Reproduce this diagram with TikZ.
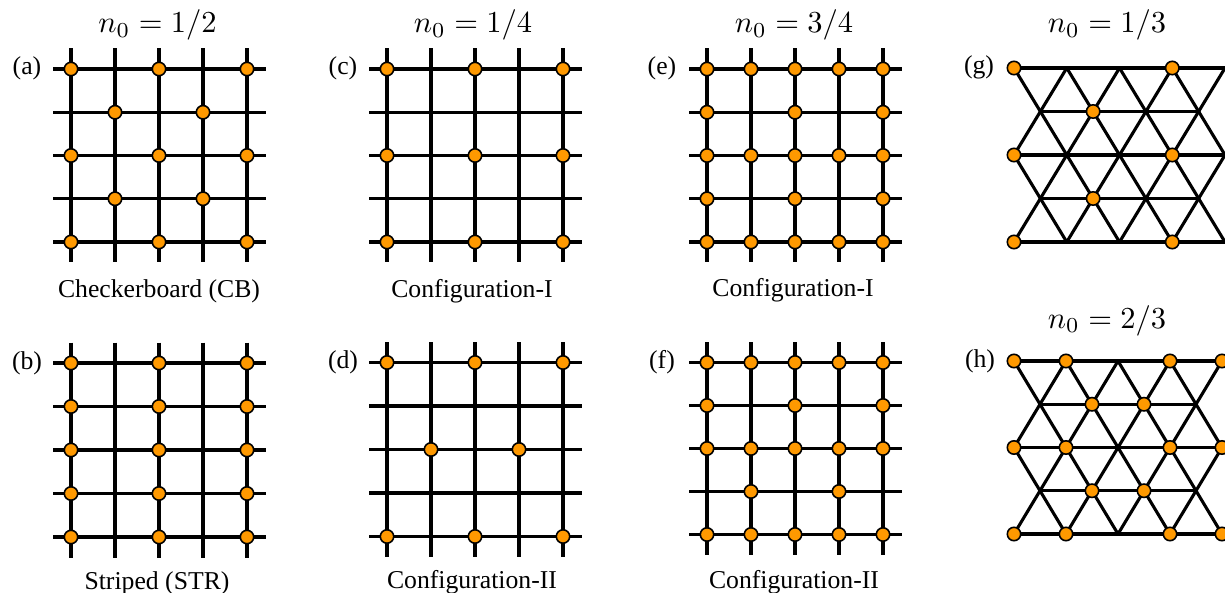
\documentclass[tikz,border=0pt]{standalone}
\usepackage[no-math]{fontspec}
\setmainfont{Liberation Serif}
\definecolor{siteorange}{RGB}{255,153,0}
\tikzset{
  lat/.style={line width=3.2pt, line cap=butt},
  tri/.style={line width=3.1pt, line cap=round},
  site/.style={circle, draw=black, fill=siteorange, line width=1.6pt, minimum size=13.4pt, inner sep=0pt},
  lbl/.style={font=\fontsize{25.7}{30}\selectfont, anchor=base, inner sep=0pt},
  ttl/.style={font=\fontsize{10}{12}\selectfont, scale=3.05, anchor=base, inner sep=0pt}
}
\newcommand{\sqlattice}[1]{%
  \foreach \i in {0,...,4} \draw[lat] (\i*44,-20.5) -- (\i*44,4*#1+20.5);
  \foreach \j in {0,...,4} \draw[lat] (-18,\j*#1) -- (195,\j*#1);
}
\newcommand{\trilattice}[2]{%
  \foreach \r in {0,2,4} \draw[tri] (0,\r*#2) -- (4*#1+15,\r*#2);
  \foreach \r in {1,3} \draw[tri] (0.5*#1,\r*#2) -- (3.5*#1,\r*#2);
  \foreach \r in {1,3} \foreach \j in {0,...,3} {
    \draw[tri] (\j*#1,\r*#2-#2) -- (\j*#1+0.5*#1,\r*#2) -- (\j*#1,\r*#2+#2);
    \draw[tri] (\j*#1+#1,\r*#2-#2) -- (\j*#1+0.5*#1,\r*#2) -- (\j*#1+#1,\r*#2+#2);
  }
}
\begin{document}
\begin{tikzpicture}[x=1pt,y=-1pt]
\useasboundingbox (0,0) rectangle (1225,593);
\clip (0,0) rectangle (1225,593);
\fill[white] (0,0) rectangle (1225,593);

% titles
\node[ttl] (t1) at (157.5,33) {$n_0 = 1/2$};
\node[ttl] (t2) at (473,33) {$n_0 = 1/4$};
\node[ttl] (t3) at (794,33) {$n_0 = 3/4$};
\node[ttl] (t4) at (1107,33) {$n_0 = 1/3$};
\node[ttl] (t5) at (1107,328) {$n_0 = 2/3$};

% panel labels
\node[lbl] (la) at (27,75) {(a)};
\node[lbl] (lb) at (27,369) {(b)};
\node[lbl] (lc) at (343,75) {(c)};
\node[lbl] (ld) at (343,368) {(d)};
\node[lbl] (le) at (662,75) {(e)};
\node[lbl] (lf) at (662,368) {(f)};
\node[lbl] (lg) at (979,74) {(g)};
\node[lbl] (lh) at (980,367) {(h)};

% captions
\node[lbl] (ca) at (159,298) {Checkerboard (CB)};
\node[lbl] (cc) at (472,298) {Configuration-I};
\node[lbl] (ce) at (793,297) {Configuration-I};
\node[lbl] (cb) at (157,589) {Striped (STR)};
\node[lbl] (cd) at (472,588) {Configuration-II};
\node[lbl] (cf) at (794,588) {Configuration-II};

% (a) checkerboard
\begin{scope}[shift={(71,69)}]
  \sqlattice{43.25}
  \foreach \i/\j in {0/0,2/0,4/0,1/1,3/1,0/2,2/2,4/2,1/3,3/3,0/4,2/4,4/4}
    \node[site] (a\i\j) at (\i*44,\j*43.25) {};
\end{scope}
% (b) striped
\begin{scope}[shift={(71,363)}]
  \sqlattice{43.5}
  \foreach \i in {0,2,4} \foreach \j in {0,...,4}
    \node[site] (b\i\j) at (\i*44,\j*43.5) {};
\end{scope}
% (c)
\begin{scope}[shift={(387,69)}]
  \sqlattice{43.25}
  \foreach \i in {0,2,4} \foreach \j in {0,2,4}
    \node[site] (c\i\j) at (\i*44,\j*43.25) {};
\end{scope}
% (d)
\begin{scope}[shift={(387,362.5)}]
  \sqlattice{43.5}
  \foreach \i/\j in {0/0,2/0,4/0,1/2,3/2,0/4,2/4,4/4}
    \node[site] (d\i\j) at (\i*44,\j*43.5) {};
\end{scope}
% (e)
\begin{scope}[shift={(707,69)}]
  \sqlattice{43.25}
  \foreach \i/\j in {0/0,1/0,2/0,3/0,4/0,0/1,2/1,4/1,0/2,1/2,2/2,3/2,4/2,0/3,2/3,4/3,0/4,1/4,2/4,3/4,4/4}
    \node[site] (e\i\j) at (\i*44,\j*43.25) {};
\end{scope}
% (f)
\begin{scope}[shift={(707,362.5)}]
  \sqlattice{43}
  \foreach \i/\j in {0/0,1/0,2/0,3/0,4/0,0/1,2/1,4/1,0/2,1/2,2/2,3/2,4/2,1/3,3/3,0/4,1/4,2/4,3/4,4/4}
    \node[site] (f\i\j) at (\i*44,\j*43) {};
\end{scope}
% (g) triangular 1/3
\begin{scope}[shift={(1014,68)}]
  \trilattice{52.75}{43.5}
  \foreach \x/\r in {0/0,3/0,1.5/1,0/2,3/2,1.5/3,0/4,3/4}
    \node[site] (g\r-\x) at (\x*52.75,\r*43.5) {};
\end{scope}
% (h) triangular 2/3
\begin{scope}[shift={(1014,361)}]
  \trilattice{52}{43.25}
  \foreach \x/\r in {0/0,1/0,3/0,4/0,1.5/1,2.5/1,0/2,1/2,3/2,4/2,1.5/3,2.5/3,0/4,1/4,3/4,4/4}
    \node[site] (h\r-\x) at (\x*52,\r*43.25) {};
\end{scope}
\end{tikzpicture}
\end{document}
